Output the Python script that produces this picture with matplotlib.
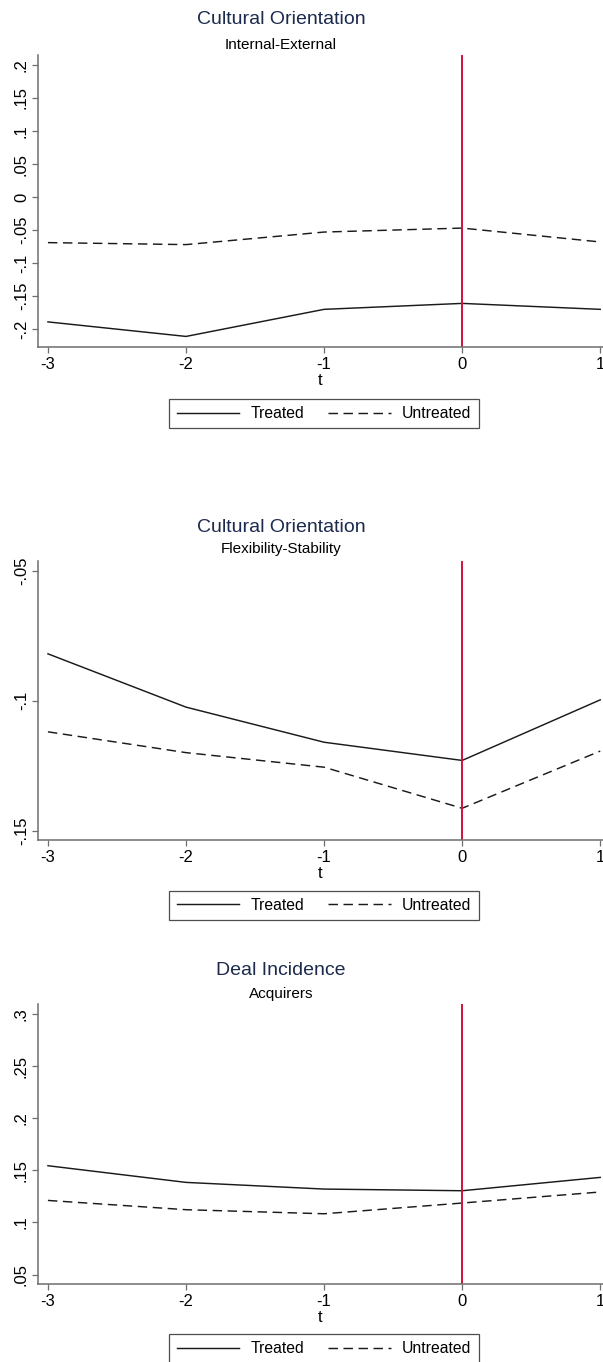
import matplotlib
matplotlib.use("Agg")
import matplotlib.pyplot as plt
from matplotlib.lines import Line2D

# ---------------- data ----------------
t = [-3, -2, -1, 0, 1]
xtick_labels = ["-3", "-2", "-1", "0", "1"]

titles = ["Cultural Orientation", "Cultural Orientation", "Deal Incidence"]
subtitles = ["Internal-External", "Flexibility-Stability", "Acquirers"]

p1_treated = [-0.189, -0.211, -0.170, -0.161, -0.170]
p1_untreated = [-0.069, -0.072, -0.053, -0.047, -0.068]
p2_treated = [-0.082, -0.1025, -0.116, -0.123, -0.0997]
p2_untreated = [-0.112, -0.120, -0.1256, -0.1414, -0.1194]
p3_treated = [0.1544, 0.1384, 0.132, 0.1304, 0.1432]
p3_untreated = [0.1211, 0.1122, 0.1083, 0.1186, 0.1292]

p1_yticks = [-0.2, -0.15, -0.1, -0.05, 0, 0.05, 0.1, 0.15, 0.2]
p1_ylabels = ["-.2", "-.15", "-.1", "-.05", "0", ".05", ".1", ".15", ".2"]
p2_yticks = [-0.15, -0.1, -0.05]
p2_ylabels = ["-.15", "-.1", "-.05"]
p3_yticks = [0.05, 0.1, 0.15, 0.2, 0.25, 0.3]
p3_ylabels = [".05", ".1", ".15", ".2", ".25", ".3"]

treated_series = [p1_treated, p2_treated, p3_treated]
untreated_series = [p1_untreated, p2_untreated, p3_untreated]
ytick_sets = [p1_yticks, p2_yticks, p3_yticks]
ylabel_sets = [p1_ylabels, p2_ylabels, p3_ylabels]
legend_labels = ["Treated", "Untreated"]

# ---------------- layout (pixels) ----------------
W, H = 603, 1362
plt.rcParams['font.family'] = ['Liberation Sans', 'DejaVu Sans']
plt.rcParams['lines.scale_dashes'] = False

fig = plt.figure(figsize=(W / 100, H / 100), dpi=100)
fig.patch.set_facecolor('white')

ax_px = [(55, 347), (561, 840), (1004, 1284)]
ylims = [(-0.227, 0.215), (-0.1536, -0.0463), (0.0409, 0.3096)]
title_base = [24.5, 531.7, 975]
sub_base = [49, 553.3, 998.3]
legend_top = [399, 890.7, 1334]
left_px = 38
title_x = 281

dash = (6.8, 4.0)
line_col = '#1a1a1a'
red = '#d0103a'
spine_col = '#6e6e6e'
title_col = '#1c2a4e'
lw = 1.05

for i in range(3):
    top, bot = ax_px[i]
    ax = fig.add_axes([left_px / W, 1 - bot / H, (W - left_px) / W, (bot - top) / H])
    ax.plot(t, treated_series[i], color=line_col, lw=lw, solid_joinstyle='miter')
    ax.plot(t, untreated_series[i], color=line_col, lw=lw, linestyle=(0, dash))
    ax.axvline(0, color=red, lw=1.4)
    ax.set_xlim(-3.072, 1.02)
    ax.set_ylim(*ylims[i])
    ax.set_xticks(t)
    ax.set_xticklabels(xtick_labels)
    ax.set_yticks(ytick_sets[i])
    ax.set_yticklabels(ylabel_sets[i], rotation=90, va='center')
    for s in ['top', 'right']:
        ax.spines[s].set_visible(False)
    for s in ['left', 'bottom']:
        ax.spines[s].set_color(spine_col)
        ax.spines[s].set_linewidth(1.1)
    ax.tick_params(axis='both', direction='out', length=4, width=0.9,
                   color=spine_col, labelsize=12, pad=3)
    ax.tick_params(axis='y', pad=2.5)
    ax.set_xlabel('t', fontsize=12, labelpad=1)
    ax.set_facecolor('white')

    fig.text(title_x / W, 1 - title_base[i] / H, titles[i], ha='center',
             va='baseline', fontsize=14, color=title_col)
    fig.text(title_x / W, 1 - sub_base[i] / H, subtitles[i], ha='center',
             va='baseline', fontsize=11, color='black')

    handles = [Line2D([], [], color=line_col, lw=lw),
               Line2D([], [], color=line_col, lw=lw, linestyle=(0, dash))]
    leg = ax.legend(handles, legend_labels, ncol=2, loc='upper center',
                    bbox_to_anchor=(324 / W, 1 - legend_top[i] / H),
                    bbox_transform=fig.transFigure, fontsize=11.3,
                    frameon=True, fancybox=False, handlelength=4.0,
                    handletextpad=0.7, columnspacing=1.55, borderpad=0.45,
                    borderaxespad=0)
    leg.get_frame().set_edgecolor('#222222')
    leg.get_frame().set_linewidth(0.9)

fig.savefig('out.png', dpi=100, facecolor='white')
